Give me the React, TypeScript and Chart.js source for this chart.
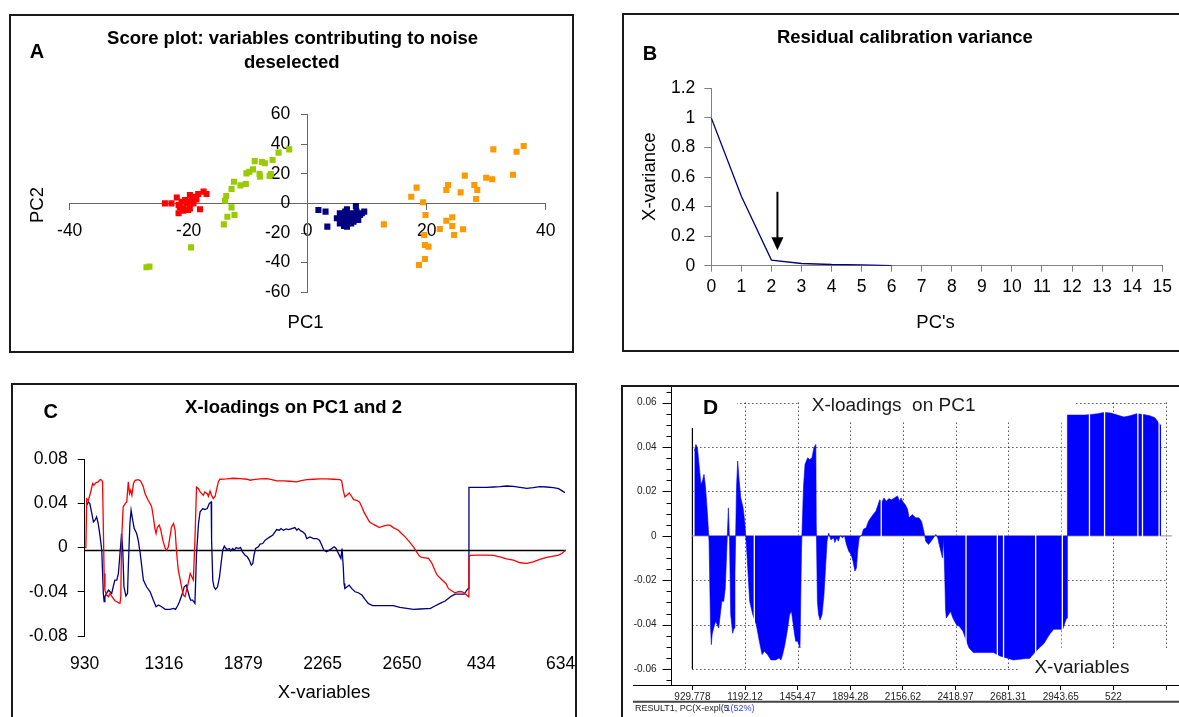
import React, { useEffect, useRef } from 'react';
import { Chart, registerables } from 'chart.js';

Chart.register(...registerables);

const FONT = '"Liberation Sans", Arial, Helvetica, sans-serif';
Chart.defaults.font.family = FONT;
Chart.defaults.color = '#000';

// ---------------- Panel A : score plot (PC1, PC2) ----------------
const SCORE_RED: [number, number][] = [
  [-24.0, 0.0], [-22.9, 0.0], [-22.0, 4.0], [-21.7, -1.1], [-21.7, -6.7], [-21.2, 1.1], [-20.9, -3.4],
  [-20.9, -5.0], [-20.6, 2.2], [-20.3, 0.0], [-20.1, 1.1], [-20.1, -4.5], [-19.8, 5.6], [-19.8, -3.4],
  [-19.5, 2.2], [-19.2, 0.0], [-19.2, 4.5], [-18.9, 4.0], [-18.7, 2.7], [-18.4, 6.3], [-18.1, -4.0],
  [-17.5, 7.9], [-17.0, 6.3], [-21.5, -2.7],
];
const SCORE_GREEN: [number, number][] = [
  [-27.1, -43.1], [-26.6, -42.7], [-19.6, -29.7], [-14.1, -14.2], [-13.5, -9.0], [-12.3, -7.9],
  [-12.8, -2.7], [-13.9, 1.8], [-13.7, 4.9], [-12.8, 9.7], [-12.4, 14.6], [-11.3, 12.1], [-10.4, 13.0],
  [-10.3, 20.2], [-9.8, 21.3], [-9.2, 22.9], [-8.9, 28.5], [-8.1, 19.8], [-8.0, 18.0], [-7.7, 27.9],
  [-7.2, 27.0], [-6.4, 18.4], [-6.2, 19.8], [-5.9, 29.2], [-4.9, 34.2], [-3.1, 36.4],
];
const SCORE_NAVY: [number, number][] = [
  [1.8, -4.5], [3.0, -5.6], [3.3, -15.7], [4.9, -10.1], [5.4, -6.7], [5.7, -10.1], [6.0, -12.4],
  [6.3, -5.6], [6.4, -9.0], [6.6, -4.0], [6.7, -13.5], [6.8, -11.2], [7.0, -7.9], [7.1, -10.1],
  [7.4, -6.7], [7.7, -12.4], [8.0, -9.0], [8.1, -1.8], [8.2, -5.6], [8.5, -11.2], [8.8, -7.9],
  [9.1, -6.7], [9.5, -5.6], [5.4, -13.5], [6.1, -15.2], [6.6, -15.7], [7.3, -13.5],
];
const SCORE_ORANGE: [number, number][] = [
  [12.8, -14.2], [17.4, 4.5], [18.3, 10.6], [19.4, 0.7], [19.8, -7.9], [19.6, -21.3], [19.7, -28.1],
  [20.3, -29.2], [19.7, -37.5], [18.7, -41.6], [22.2, -17.3], [23.3, -11.7], [23.3, 9.0], [23.6, 12.4],
  [24.3, -9.4], [24.3, -15.3], [24.6, -21.3], [25.7, 7.4], [26.1, -17.5], [26.4, 18.7], [28.0, 12.4],
  [28.5, 9.0], [28.3, 2.9], [30.0, 17.3], [31.0, 16.2], [31.2, 36.4], [34.5, 19.3], [35.1, 34.8],
  [36.3, 38.7],
];

// ---------------- Panel B : residual calibration variance ----------------
const B_PCS = [0, 1, 2, 3, 4, 5, 6];
const B_RESIDUAL = [1.0, 0.47, 0.038, 0.015, 0.008, 0.006, 0.0];
const B_ARROW = { x: 2.2, from: 0.5, to: 0.105 };

// ---------------- Panel C / D : loadings (variable index, loading) ----------------
const LOADING_PC1: [number, number][] = [
  [5, 0.0382], [9, 0.0412], [13, 0.0397], [18, 0.0307], [22, 0.0232], [26, 0.0247], [30, 0.0277], [34, 0.0217],
  [39, 0.0096], [43, -0.0024], [47, -0.0415], [49, -0.049], [51, -0.0445], [55, -0.0415], [60, -0.0385],
  [64, -0.04], [68, -0.0415], [72, -0.0355], [76, -0.0295], [81, -0.0295], [85, -0.0235], [89, -0.0054],
  [93, 0.0126], [96, -0.0024], [99, -0.0355], [104, -0.0439], [108, -0.0415], [110, -0.0174], [114, 0.0217],
  [117, 0.0337], [121, 0.0247], [125, 0.0171], [131, 0.0126], [135, 0.0066], [140, -0.0054], [144, -0.0174],
  [148, -0.0295], [156, -0.0355], [165, -0.04], [173, -0.0475], [180, -0.0535], [186, -0.052], [194, -0.0535],
  [203, -0.0559], [215, -0.0559], [224, -0.055], [229, -0.0559], [234, -0.0529], [239, -0.049], [245, -0.043],
  [251, -0.0355], [256, -0.034], [259, -0.0379], [264, -0.0445], [267, -0.0475], [272, -0.0475], [278, -0.0505],
  [282, -0.0054], [287, 0.0217], [291, 0.0322], [298, 0.0352], [303, 0.0343], [309, 0.0352], [314, 0.0397],
  [319, 0.0412], [320, 0.0066], [323, -0.0295], [326, -0.0355], [330, -0.0379], [335, -0.0355], [340, -0.0265],
  [343, -0.0174], [348, -0.0024], [352, 0.0012], [358, -0.0018], [365, -0.0009], [368, -0.003], [373, -0.0009],
  [377, -0.0024], [382, 0], [388, -0.0009], [393, 0], [398, -0.0039], [404, -0.0069], [410, -0.0084],
  [415, -0.0114], [420, -0.0159], [424, -0.0144], [427, -0.0069], [431, -0.0009], [438, 0.0006], [442, 0.003],
  [449, 0.0036], [455, 0.0066], [461, 0.0081], [467, 0.0096], [474, 0.0111], [480, 0.0141], [484, 0.0162],
  [491, 0.0156], [495, 0.0171], [501, 0.0156], [508, 0.0168], [514, 0.0162], [522, 0.0171], [530, 0.018],
  [535, 0.0156], [539, 0.0171], [545, 0.015], [550, 0.0141], [556, 0.012], [560, 0.0081], [568, 0.0096],
  [577, 0.0081], [585, 0.0081], [592, 0.0066], [598, 0.0021], [603, -0.0024], [610, -0.0039], [617, -0.0024],
  [623, -0.0009], [629, 0.0006], [634, -0.0009], [637, -0.0033], [642, -0.0069], [646, -0.0099], [649, -0.0009],
  [652, -0.0174], [654, -0.0325], [656, -0.037], [662, -0.0355], [667, -0.034], [673, -0.037], [682, -0.04],
  [690, -0.0409], [699, -0.043], [707, -0.0469], [715, -0.0505], [726, -0.0526], [741, -0.0526], [762, -0.0526],
  [778, -0.0526], [795, -0.0541], [812, -0.055], [829, -0.0559], [846, -0.0556], [862, -0.0553], [871, -0.0553],
  [883, -0.0529], [896, -0.0505], [909, -0.0484], [917, -0.046], [925, -0.0439], [934, -0.0421], [947, -0.0421],
  [957, -0.0421], [961, -0.04], [965, -0.0379], [968, -0.037], [969, 0.0544], [989, 0.0544], [1014, 0.0544],
  [1031, 0.0547], [1047, 0.055], [1064, 0.0556], [1081, 0.0553], [1098, 0.0544], [1115, 0.0535], [1131, 0.0541],
  [1148, 0.055], [1165, 0.0547], [1182, 0.0541], [1195, 0.0532], [1203, 0.0514], [1211, 0.0496],
];
const LOADING_PC2: [number, number][] = [
  [0, 0], [3, 0], [5, 0.044], [9, 0.0427], [13, 0.0472], [18, 0.0547], [20, 0.0578], [23, 0.0563], [28, 0.0584],
  [34, 0.0593], [39, 0.0614], [43, 0.0608], [45, 0.0593], [49, -0.0235], [51, -0.0385], [55, -0.043], [60, -0.0445],
  [64, -0.0415], [68, -0.0439], [72, -0.046], [76, -0.0481], [81, -0.049], [85, -0.0499], [89, -0.0505],
  [91, -0.0445], [93, 0.0066], [97, 0.0367], [102, 0.0397], [106, 0.0412], [110, 0.0593], [113, 0.0487],
  [116, 0.0517], [119, 0.0472], [123, 0.0578], [127, 0.0608], [135, 0.0614], [141, 0.0602], [148, 0.0547],
  [152, 0.0487], [160, 0.0427], [165, 0.0397], [169, 0.0367], [173, 0.0277], [177, 0.0171], [180, 0.0126],
  [183, 0.018], [188, 0.0202], [192, 0.0156], [197, 0.0066], [203, -0.0009], [207, -0.0024], [211, 0.0006],
  [215, 0.0096], [219, 0.0186], [224, 0.0217], [228, 0.0156], [232, -0.0054], [236, -0.0205], [241, -0.0295],
  [245, -0.037], [249, -0.043], [253, -0.0445], [257, -0.0385], [261, -0.0325], [266, -0.0235], [270, -0.0265],
  [274, -0.0295], [278, 0.0066], [282, 0.0547], [287, 0.0532], [291, 0.0502], [295, 0.0487], [299, 0.0472],
  [303, 0.0502], [309, 0.0487], [312, 0.0463], [316, 0.0511], [320, 0.0472], [324, 0.0442], [329, 0.0463],
  [333, 0.0532], [337, 0.0593], [341, 0.0617], [358, 0.062], [375, 0.0626], [392, 0.0623], [409, 0.0617],
  [417, 0.0608], [425, 0.0614], [442, 0.062], [459, 0.0623], [472, 0.0614], [484, 0.0602], [501, 0.0602],
  [518, 0.0599], [535, 0.0593], [543, 0.0602], [560, 0.0614], [577, 0.0617], [594, 0.062], [610, 0.062],
  [627, 0.0617], [644, 0.0614], [648, 0.0602], [652, 0.0517], [656, 0.0457], [661, 0.0472], [667, 0.0493],
  [673, 0.0463], [678, 0.0433], [686, 0.0427], [693, 0.0412], [699, 0.0367], [704, 0.0322], [711, 0.0277],
  [718, 0.0232], [724, 0.0217], [732, 0.0202], [743, 0.018], [751, 0.0192], [762, 0.0202], [770, 0.0202],
  [778, 0.018], [791, 0.0156], [799, 0.0126], [808, 0.0096], [819, 0.0051], [829, 0.0006], [837, -0.0039],
  [844, -0.0078], [850, -0.009], [858, -0.0093], [867, -0.0099], [875, -0.0138], [883, -0.0205], [889, -0.025],
  [900, -0.0289], [911, -0.0325], [917, -0.037], [925, -0.0391], [934, -0.0409], [942, -0.04], [951, -0.04],
  [959, -0.0415], [963, -0.043], [968, -0.0445], [969, -0.0084], [972, -0.0072], [989, -0.0069], [1014, -0.0069],
  [1031, -0.0072], [1047, -0.0084], [1064, -0.0102], [1081, -0.0114], [1098, -0.0138], [1115, -0.0144],
  [1131, -0.0129], [1148, -0.0108], [1165, -0.009], [1182, -0.0078], [1195, -0.0069], [1203, -0.0054],
  [1211, -0.003],
];
const C_TICK_LABELS = ['930', '1316', '1879', '2265', '2650', '434', '634'];
const C_TICK_STEP = 200;
const C_Y_TICKS = [-0.08, -0.04, 0, 0.04, 0.08];
const C_BASELINE = -0.0027;

const D_TICK_LABELS = ['929.778', '1192.12', '1454.47', '1894.28', '2156.62', '2418.97', '2681.31', '2943.65', '522', ''];
const D_TICK_STEP = 136;
const D_Y_TICKS = [-0.06, -0.04, -0.02, 0, 0.02, 0.04, 0.06];
const D_GAPS = [160, 488, 707, 788, 804, 887, 956, 1026, 1065, 1151, 1163, 1206];
const D_FIRST_BAR_TOP = 0.0486;

// ---------------- helpers ----------------
const f = (size: number, bold = false) => `${bold ? 'bold ' : ''}${size}px ${FONT}`;
const round = (v: number, d: number) => String(Math.round(v * Math.pow(10, d)) / Math.pow(10, d));
const fixSize = (size?: number) => (s: any) => {
  if (size !== undefined) {
    if (s.isHorizontal()) s.height = size;
    else s.width = size;
  }
  s.paddingLeft = 0; s.paddingRight = 0; s.paddingTop = 0; s.paddingBottom = 0;
};
type TextItem = { text: string; x: number; y: number; font: string; color?: string; align?: CanvasTextAlign; rotate?: number };
const textPlugin = (items: TextItem[]) => ({
  id: 'texts',
  afterDraw(chart: any) {
    const ctx = chart.ctx;
    items.forEach((t) => {
      ctx.save();
      ctx.font = t.font;
      ctx.fillStyle = t.color || '#000';
      ctx.textAlign = t.align || 'center';
      ctx.textBaseline = 'middle';
      ctx.translate(t.x, t.y);
      if (t.rotate) ctx.rotate(t.rotate);
      ctx.fillText(t.text, 0, 0);
      ctx.restore();
    });
  },
});
const toXY = (arr: [number, number][]) => arr.map(([x, y]) => ({ x, y }));
const baseOptions = {
  animation: false,
  responsive: false,
  devicePixelRatio: 1,
  events: [],
  plugins: { legend: { display: false }, tooltip: { enabled: false }, title: { display: false } },
};

function ChartBox({ left, top, width, height, config }: { left: number; top: number; width: number; height: number; config: () => any }) {
  const ref = useRef<HTMLCanvasElement>(null);
  useEffect(() => {
    const chart = new Chart(ref.current as HTMLCanvasElement, config());
    return () => chart.destroy();
  }, []);
  return <canvas ref={ref} width={width} height={height} style={{ position: 'absolute', left, top, width, height }} />;
}

// ---------------- configs ----------------
const TICK = 17.5;
const AXIS_A = '#666666';

const configA = () => {
  const scatter = (data: [number, number][], color: string) => ({
    data: toXY(data), backgroundColor: color, borderColor: color, borderWidth: 0,
    pointStyle: 'rect', pointRadius: 4.3,
  });
  return {
    type: 'scatter',
    data: {
      datasets: [
        scatter(SCORE_RED, '#FF0000'),
        scatter(SCORE_GREEN, '#99CC00'),
        scatter(SCORE_NAVY, '#000080'),
        scatter(SCORE_ORANGE, '#FF9900'),
      ],
    },
    options: {
      ...baseOptions,
      layout: { padding: { left: 59.7, right: 27.3, top: 99.4, bottom: 59.7 } },
      scales: {
        x: {
          type: 'linear', position: { y: 0 }, min: -40, max: 40,
          ticks: { stepSize: 20, font: { size: TICK }, padding: 11, color: '#000', maxRotation: 0, autoSkip: false },
          grid: { drawOnChartArea: false, tickLength: 6, color: AXIS_A },
          border: { color: AXIS_A, width: 1 },
          afterFit: fixSize(),
        },
        y: {
          type: 'linear', position: { x: 0 }, min: -60, max: 60,
          ticks: { stepSize: 20, font: { size: TICK }, color: '#000', autoSkip: false, callback: (v: number) => String(v) + '\u2002\u2002' },
          grid: { drawOnChartArea: false, tickLength: 6, color: AXIS_A },
          border: { color: AXIS_A, width: 1 },
          afterFit: fixSize(),
        },
      },
    },
    plugins: [
      textPlugin([
        { text: 'Score plot: variables contributing to noise', x: 282.6, y: 24, font: f(18.5, true) },
        { text: 'deselected', x: 281.7, y: 48.3, font: f(18.5, true) },
        { text: 'A', x: 26.9, y: 37.7, font: f(20, true) },
        { text: 'PC2', x: 27.6, y: 190, font: f(18.5), rotate: -Math.PI / 2 },
        { text: 'PC1', x: 295.6, y: 308.3, font: f(18.5) },
      ]),
    ],
  };
};

const AXIS_B = '#808080';
const configB = () => ({
  type: 'line',
  data: {
    datasets: [{
      data: B_PCS.map((x, i) => ({ x, y: B_RESIDUAL[i] })),
      borderColor: '#000080', borderWidth: 1.3, pointRadius: 0, tension: 0, fill: false,
    }],
  },
  options: {
    ...baseOptions,
    layout: { padding: { left: 28.3, right: 60.8, top: 74.3, bottom: 35.3 } },
    scales: {
      x: {
        type: 'linear', position: 'bottom', min: 0, max: 15,
        ticks: { stepSize: 1, autoSkip: false, maxRotation: 0, padding: 5, font: { size: TICK }, color: '#000' },
        grid: { drawOnChartArea: false, tickLength: 6, color: AXIS_B },
        border: { color: AXIS_B, width: 1 },
        afterFit: fixSize(50),
      },
      y: {
        type: 'linear', position: 'left', min: 0, max: 1.2,
        ticks: { stepSize: 0.2, padding: 9, font: { size: TICK }, color: '#000', callback: (v: number) => round(v, 1) },
        grid: { drawOnChartArea: false, tickLength: 7, color: AXIS_B },
        border: { color: AXIS_B, width: 1 },
        afterFit: fixSize(60),
      },
    },
  },
  plugins: [
    {
      id: 'arrow',
      afterDatasetsDraw(chart: any) {
        const { ctx, scales } = chart;
        const px = scales.x.getPixelForValue(B_ARROW.x);
        const y0 = scales.y.getPixelForValue(B_ARROW.from);
        const y1 = scales.y.getPixelForValue(B_ARROW.to);
        ctx.save();
        ctx.strokeStyle = '#000';
        ctx.fillStyle = '#000';
        ctx.lineWidth = 2;
        ctx.beginPath();
        ctx.moveTo(px, y0);
        ctx.lineTo(px, y1 - 10);
        ctx.stroke();
        ctx.beginPath();
        ctx.moveTo(px - 6, y1 - 13);
        ctx.lineTo(px + 6, y1 - 13);
        ctx.lineTo(px, y1);
        ctx.closePath();
        ctx.fill();
        ctx.restore();
      },
    },
    textPlugin([
      { text: 'Residual calibration variance', x: 281.9, y: 24.3, font: f(18.5, true) },
      { text: 'B', x: 27, y: 40, font: f(20, true) },
      { text: 'X-variance', x: 27, y: 162.7, font: f(18.5), rotate: -Math.PI / 2 },
      { text: "PC's", x: 312.6, y: 309, font: f(18.5) },
    ]),
  ],
});

const configC = () => ({
  type: 'line',
  data: {
    datasets: [
      { data: toXY(LOADING_PC2), borderColor: '#FF0000', borderWidth: 1.3, pointRadius: 0, tension: 0, fill: false },
      { data: toXY(LOADING_PC1), borderColor: '#000080', borderWidth: 1.3, pointRadius: 0, tension: 0, fill: false },
    ],
  },
  options: {
    ...baseOptions,
    layout: { padding: { left: 17.7, right: 66.3, top: 75, bottom: 28 } },
    scales: {
      x: {
        type: 'linear', position: 'bottom', min: 0, max: 1213,
        afterBuildTicks: (s: any) => { s.ticks = C_TICK_LABELS.map((_, i) => ({ value: i * C_TICK_STEP })); },
        ticks: { callback: (_v: number, i: number) => C_TICK_LABELS[i], autoSkip: false, maxRotation: 0, padding: 18, font: { size: TICK }, color: '#000' },
        grid: { display: false, drawTicks: false },
        border: { display: false },
        afterFit: fixSize(60),
      },
      y: {
        type: 'linear', position: 'left', min: -0.08, max: 0.08,
        afterBuildTicks: (s: any) => { s.ticks = C_Y_TICKS.map((v) => ({ value: v })); },
        ticks: { padding: 10, font: { size: TICK }, color: '#000', callback: (v: number) => round(v, 2) },
        grid: { drawOnChartArea: false, tickLength: 7, color: '#000' },
        border: { color: '#000', width: 1 },
        afterFit: fixSize(55),
      },
    },
  },
  plugins: [
    {
      id: 'baseline',
      beforeDatasetsDraw(chart: any) {
        const { ctx, scales } = chart;
        const py = scales.y.getPixelForValue(C_BASELINE);
        ctx.save();
        ctx.strokeStyle = '#000';
        ctx.lineWidth = 1.5;
        ctx.beginPath();
        ctx.moveTo(scales.x.getPixelForValue(0), py);
        ctx.lineTo(scales.x.getPixelForValue(1213), py);
        ctx.stroke();
        ctx.restore();
      },
    },
    textPlugin([
      { text: 'X-loadings on PC1 and 2', x: 281.5, y: 24, font: f(18.5, true) },
      { text: 'C', x: 38.8, y: 28.7, font: f(20, true) },
      { text: 'X-variables', x: 312, y: 308.7, font: f(18.5) },
    ]),
  ],
});

const configD = () => ({
  type: 'line',
  data: {
    datasets: [
      { data: toXY(LOADING_PC1), borderColor: '#0000FF', borderWidth: 0.6, backgroundColor: '#0000FF', pointRadius: 0, tension: 0, fill: 'origin' },
    ],
  },
  options: {
    ...baseOptions,
    layout: { padding: { left: 9.5, right: 26.5, top: 20, bottom: 12 } },
    scales: {
      x: {
        type: 'linear', position: 'bottom', min: -54, max: 1300,
        afterBuildTicks: (s: any) => { s.ticks = D_TICK_LABELS.map((_, i) => ({ value: i * D_TICK_STEP })); },
        ticks: { callback: (_v: number, i: number) => D_TICK_LABELS[i], autoSkip: false, maxRotation: 0, padding: 1, font: { size: 10 }, color: '#222' },
        grid: { drawOnChartArea: false, tickLength: 5, color: '#000' },
        border: { display: false },
        afterFit: fixSize(20),
      },
      y: {
        type: 'linear', position: 'left', min: -0.0672, max: 0.0675,
        afterBuildTicks: (s: any) => { s.ticks = D_Y_TICKS.map((v) => ({ value: v })); },
        ticks: { padding: 15, font: { size: 10 }, color: '#222', callback: (v: number) => round(v, 2) },
        grid: { drawOnChartArea: false, drawTicks: false },
        border: { color: '#000', width: 1 },
        afterFit: fixSize(40),
      },
    },
  },
  plugins: [
    {
      id: 'dframe',
      beforeDatasetsDraw(chart: any) {
        const { ctx, scales, chartArea, width } = chart;
        const { x, y } = scales;
        const gx0 = x.getPixelForValue(0);
        const gx1 = x.getPixelForValue(D_TICK_STEP * (D_TICK_LABELS.length - 1));
        const gyTop = y.getPixelForValue(D_Y_TICKS[D_Y_TICKS.length - 1]);
        const gyBot = y.getPixelForValue(D_Y_TICKS[0]);
        ctx.save();
        // dotted grid
        ctx.strokeStyle = '#000';
        ctx.lineWidth = 1;
        ctx.setLineDash([1, 3]);
        D_Y_TICKS.forEach((v) => {
          if (v === 0) return;
          const py = Math.round(y.getPixelForValue(v)) + 0.5;
          ctx.beginPath(); ctx.moveTo(gx0, py); ctx.lineTo(gx1, py); ctx.stroke();
        });
        D_TICK_LABELS.forEach((_, i) => {
          const px = Math.round(x.getPixelForValue(i * D_TICK_STEP)) + 0.5;
          ctx.beginPath(); ctx.moveTo(px, gyTop); ctx.lineTo(px, gyBot); ctx.stroke();
        });
        ctx.setLineDash([]);
        // white label boxes over the grid (kept clear of the frame)
        ctx.fillStyle = '#fff';
        const t0 = chartArea.top + 2;
        ctx.fillRect(178, t0, 276, 34);
        ctx.fillRect(chartArea.left + 1.5, t0, 64, 40);
        ctx.fillRect(398, 282, 210, chartArea.bottom - 282 - 0.5);
        // solid first line
        ctx.strokeStyle = '#000';
        ctx.lineWidth = 1.2;
        ctx.beginPath();
        ctx.moveTo(gx0, y.getPixelForValue(D_FIRST_BAR_TOP));
        ctx.lineTo(gx0, gyBot);
        ctx.stroke();
        // zero line
        ctx.strokeStyle = '#a8a8a8';
        ctx.lineWidth = 1.2;
        const p0 = y.getPixelForValue(0);
        ctx.beginPath(); ctx.moveTo(gx0, p0); ctx.lineTo(gx1 + 6, p0); ctx.stroke();
        // y-axis major/minor ticks
        ctx.strokeStyle = '#000';
        ctx.lineWidth = 1;
        for (let k = -13; k <= 13; k++) {
          const py = Math.round(y.getPixelForValue(k * 0.005)) + 0.5;
          const len = k % 4 === 0 ? 9 : 5;
          ctx.beginPath(); ctx.moveTo(chartArea.left - len, py); ctx.lineTo(chartArea.left, py); ctx.stroke();
        }
        // x-axis line and status bar line
        const ab = Math.round(chartArea.bottom) + 0.5;
        ctx.beginPath(); ctx.moveTo(11, ab); ctx.lineTo(width, ab); ctx.stroke();
        ctx.strokeStyle = '#444';
        ctx.lineWidth = 2;
        ctx.beginPath(); ctx.moveTo(11, 335.7); ctx.lineTo(width, 335.7); ctx.stroke();
        ctx.restore();
      },
      afterDatasetsDraw(chart: any) {
        const { ctx, scales } = chart;
        const { x, y } = scales;
        ctx.save();
        ctx.strokeStyle = '#fff';
        ctx.lineWidth = 1.3;
        D_GAPS.forEach((i) => {
          const px = x.getPixelForValue(i);
          ctx.beginPath(); ctx.moveTo(px, y.getPixelForValue(0.058)); ctx.lineTo(px, y.getPixelForValue(-0.058)); ctx.stroke();
        });
        ctx.restore();
      },
    },
    textPlugin([
      { text: 'D', x: 88.7, y: 42, font: f(21, true) },
      { text: 'X-loadings  on PC1', x: 271.6, y: 39.7, font: f(19), color: '#1a1a1a' },
      { text: 'X-variables', x: 459.9, y: 301.7, font: f(19), color: '#1a1a1a' },
      { text: 'RESULT1, PC(X-expl(5', x: 13, y: 343, font: f(9), color: '#222', align: 'left' },
      { text: '1(52%)', x: 103.6, y: 343, font: f(9), color: '#3344ee', align: 'left' },
    ]),
  ],
});

export default function App() {
  const box = (left: number, top: number, width: number, height: number): React.CSSProperties => ({
    position: 'absolute', left, top, width, height, border: '2px solid #1a1a1a', boxSizing: 'border-box',
  });
  return (
    <div style={{ position: 'fixed', left: 0, top: 0, width: 1179, height: 717, overflow: 'hidden', background: '#fff' }}>
      <ChartBox left={10} top={15} width={563} height={337} config={configA} />
      <ChartBox left={623} top={14} width={600} height={337} config={configB} />
      <ChartBox left={12} top={384} width={620} height={340} config={configC} />
      <ChartBox left={622} top={366} width={600} height={351} config={configD} />
      <div style={box(9, 14, 565, 339)} />
      <div style={box(622, 13, 620, 339)} />
      <div style={box(11, 383, 566, 400)} />
      <div style={box(621, 385, 620, 400)} />
    </div>
  );
}
